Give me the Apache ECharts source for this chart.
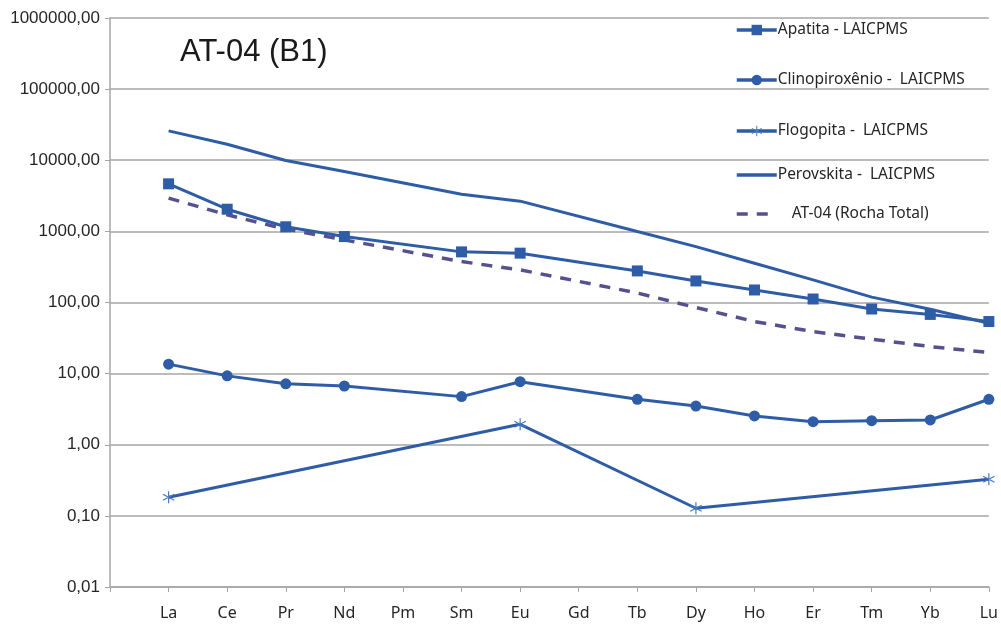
<!DOCTYPE html>
<html>
<head>
<meta charset="utf-8">
<script src="https://cdn.jsdelivr.net/npm/echarts@6/dist/echarts.min.js"></script>
<style>
  html, body { margin: 0; padding: 0; background: #ffffff; }
  #chart { width: 1001px; height: 626px; }
</style>
</head>
<body>
<div id="chart"></div>
<script>
// REE elements (first slot left blank so La sits one step in from the axis)
const elements = ['', 'La', 'Ce', 'Pr', 'Nd', 'Pm', 'Sm', 'Eu', 'Gd', 'Tb', 'Dy', 'Ho', 'Er', 'Tm', 'Yb', 'Lu'];

// Normalised concentrations per element (null = not analysed)
const apatita =        [null, 4660, 2050, 1160, 845, null, 515, 494, null, 278, 201, 150, 112, 81, 68, 54];
const clinopiroxenio = [null, 13.6, 9.3, 7.2, 6.7, null, 4.75, 7.7, null, 4.36, 3.5, 2.54, 2.11, 2.18, 2.23, 4.36];
const flogopita =      [null, 0.183, null, null, null, null, null, 1.94, null, null, 0.128, null, null, null, null, 0.327];
const perovskita =     [null, 25900, 16800, 9900, 6930, null, 3330, 2660, null, 994, 611, 357, 208, 119, 80.5, 51];
const rochaTotal =     [null, 2930, 1710, 1075, 760, null, 376, 288, null, 136, 85, 54, 39, 30.5, 24, 19.8];

const seriesNames = [
  'Apatita - LAICPMS',
  'Clinopiroxênio -  LAICPMS',
  'Flogopita -  LAICPMS',
  'Perovskita -  LAICPMS',
  'AT-04 (Rocha Total)'
];

// Log-axis tick values
const yTicks = [0.01, 0.1, 1, 10, 100, 1000, 10000, 100000, 1000000];

const blue = '#2E5CA6';
const purple = '#55518E';
const gridGrey = '#A6A6A6';
const textColor = '#262626';

// six-armed asterisk marker
const asterisk = 'path://M-0.9,-10 L0.9,-10 L0.9,10 L-0.9,10 Z ' +
  'M-9.1,-4.2 L-8.2,-5.8 L9.1,4.2 L8.2,5.8 Z ' +
  'M-9.1,4.2 L-8.2,5.8 L9.1,-4.2 L8.2,-5.8 Z';

const fmt = v => {
  const n = yTicks.find(t => Math.abs(Math.log10(t) - Math.log10(v)) < 1e-6);
  return (n !== undefined ? n : v).toFixed(2).replace('.', ',');
};

const chart = echarts.init(document.getElementById('chart'), null, { renderer: 'canvas' });

const legendTops = [22, 72, 123, 167, 206];
const legendHasMarker = [true, true, true, false, false];
const legendTextIndent = [-4, -4, -4, -4, 10];

chart.setOption({
  animation: false,
  backgroundColor: '#ffffff',
  title: {
    text: 'AT-04 (B1)',
    left: 175,
    top: 32,
    textStyle: { fontFamily: 'Liberation Sans', fontSize: 31, fontWeight: 'normal', color: '#1a1a1a' }
  },
  legend: seriesNames.map((name, i) => ({
    data: [name],
    orient: 'vertical',
    left: 735,
    top: legendTops[i],
    itemWidth: 40,
    itemHeight: 13,
    itemGap: 0,
    padding: 0,
    selectedMode: false,
    itemStyle: legendHasMarker[i] ? {} : { opacity: 0 },
    lineStyle: { width: 3.5 },
    textStyle: {
      fontFamily: 'Noto Sans', fontSize: 15.5, color: textColor,
      padding: [0, 0, 0, legendTextIndent[i]]
    }
  })),
  grid: { left: 110, right: 6, top: 18, bottom: 39, containLabel: false },
  xAxis: {
    type: 'category',
    data: elements,
    boundaryGap: false,
    axisLine: { show: true, lineStyle: { color: gridGrey, width: 1.5 } },
    axisTick: { show: true, alignWithLabel: true, length: 5, lineStyle: { color: gridGrey } },
    axisLabel: {
      interval: 0, margin: 18,
      fontFamily: 'Noto Sans', fontSize: 16, color: textColor
    },
    splitLine: { show: false }
  },
  yAxis: {
    type: 'log',
    logBase: 10,
    min: 0.01,
    max: 1000000,
    axisLine: { show: true, lineStyle: { color: gridGrey, width: 1.5 } },
    axisTick: { show: true, length: 5, lineStyle: { color: gridGrey } },
    axisLabel: {
      margin: 10,
      fontFamily: 'Liberation Sans', fontSize: 17, color: textColor,
      formatter: fmt
    },
    splitLine: { show: true, lineStyle: { color: gridGrey, width: 1.5 } },
    minorTick: { show: false },
    minorSplitLine: { show: false }
  },
  series: [
    {
      name: seriesNames[0], type: 'line', data: apatita, connectNulls: true,
      symbol: 'rect', symbolSize: 11, showAllSymbol: true,
      lineStyle: { color: blue, width: 3 }, itemStyle: { color: blue }, z: 4
    },
    {
      name: seriesNames[1], type: 'line', data: clinopiroxenio, connectNulls: true,
      symbol: 'circle', symbolSize: 11, showAllSymbol: true,
      lineStyle: { color: blue, width: 3 }, itemStyle: { color: blue }, z: 4
    },
    {
      name: seriesNames[2], type: 'line', data: flogopita, connectNulls: true,
      symbol: asterisk, symbolSize: 12, showAllSymbol: true,
      lineStyle: { color: blue, width: 3 }, itemStyle: { color: '#4A78C2' }, z: 4
    },
    {
      name: seriesNames[3], type: 'line', data: perovskita, connectNulls: true,
      symbol: 'none', showSymbol: false,
      lineStyle: { color: blue, width: 3 }, itemStyle: { color: blue }, z: 3
    },
    {
      name: seriesNames[4], type: 'line', data: rochaTotal, connectNulls: true,
      symbol: 'none', showSymbol: false,
      lineStyle: { color: purple, width: 3.5, type: [11, 9] }, itemStyle: { color: purple }, z: 2
    }
  ]
});
</script>
</body>
</html>
